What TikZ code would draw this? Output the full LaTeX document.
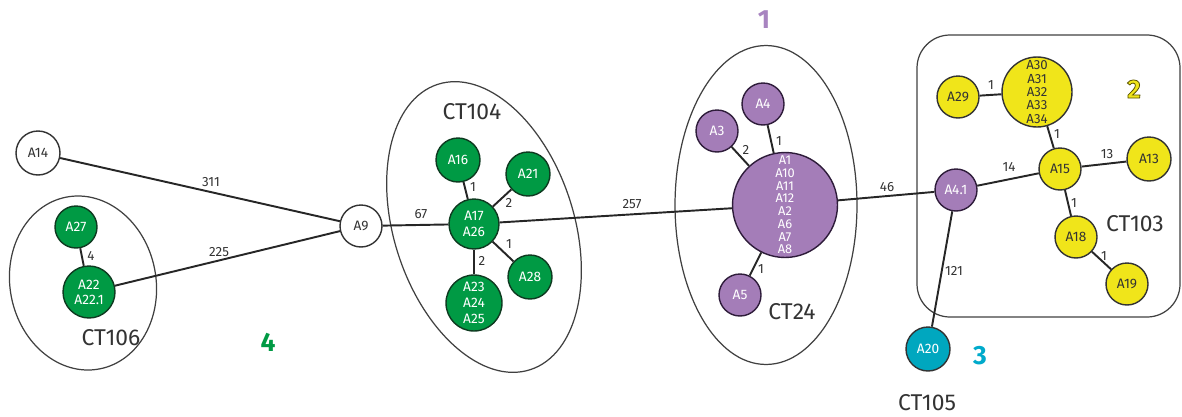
\documentclass[tikz,border=0pt]{standalone}
\usepackage{fontspec}
\setmainfont{Fira Sans}
\definecolor{cgreen}{HTML}{009A44}
\definecolor{cgreendk}{HTML}{0E3A20}
\definecolor{cpurple}{HTML}{A47DB8}
\definecolor{cpurpledk}{HTML}{2E1C3A}
\definecolor{cyellow}{HTML}{F0E51A}
\definecolor{ccyan}{HTML}{00A7BF}
\definecolor{cgray}{HTML}{333333}
\definecolor{cnum1}{HTML}{A884C0}
\definecolor{cnum3}{HTML}{00AACB}
\begin{document}
\begin{tikzpicture}[x=0.02cm,y=-0.02cm,
  base/.style={circle, inner sep=0pt, line width=0.8pt, align=center,
    font=\fontsize{7.8}{9}\selectfont},
  wnode/.style={base, draw=cgray, fill=white, text=cgray},
  gnode/.style={base, draw=cgreendk, fill=cgreen, text=white},
  pnode/.style={base, draw=cpurpledk, fill=cpurple, text=white},
  ynode/.style={base, draw=cgray, fill=cyellow, text=cgray},
  cnode/.style={base, draw=cgray, fill=ccyan, text=white},
  r21/.style={minimum size=0.84cm},
  r22/.style={minimum size=0.88cm},
  link/.style={line width=1.1pt, draw=black!85},
  lbl/.style={font=\fontsize{7.6}{9}\selectfont, text=cgray, inner sep=0pt},
  grp/.style={draw=black!75, line width=0.7pt},
  ctlbl/.style={font=\fontsize{13}{15}\selectfont, text=cgray, inner sep=0pt},
  bignum/.style={font=\fontsize{15}{17}\selectfont\bfseries, inner sep=0pt}
]
\useasboundingbox (0,0) rectangle (1182,416);

% groups
\draw[grp, shift={(83,283)}, rotate=11] (0,0) ellipse [x radius=1.46cm, y radius=1.75cm];
\draw[grp, shift={(484,227)}, rotate=18] (0,0) ellipse [x radius=1.8cm, y radius=3.0cm];
\draw[grp] (766,205) ellipse [x radius=1.82cm, y radius=3.19cm];
\draw[grp, rounded corners=0.66cm] (917,35) rectangle (1180,317);

% nodes
\node[wnode, r22] (A14) at (38,153) {A14};
\node[wnode, r21] (A9) at (361,226) {A9};
\node[gnode, r21] (A27) at (76,227) {A27};
\node[gnode, minimum size=1.04cm, font=\fontsize{7.8}{8.6}\selectfont] (A22) at (89,292) {A22\\A22.1};
\node[gnode, r22] (A16) at (458,160) {A16};
\node[gnode, r22] (A21) at (528,174) {A21};
\node[gnode, minimum size=1.0cm, font=\fontsize{7.8}{9.4}\selectfont] (A17) at (474,224) {A17\\A26};
\node[gnode, r22] (A28) at (530,277) {A28};
\node[gnode, minimum size=1.12cm, font=\fontsize{7.8}{9}\selectfont] (A23) at (474,303) {A23\\A24\\A25};
\node[pnode, r21] (A4) at (763,104) {A4};
\node[pnode, r21] (A3) at (717,131) {A3};
\node[pnode, minimum size=2.1cm, font=\fontsize{7.3}{7.26}\selectfont] (A1) at (785,205) {A1\\A10\\A11\\A12\\A2\\A6\\A7\\A8};
\node[pnode, r21] (A5) at (740,295) {A5};
\node[pnode, r21] (A41) at (956,190) {A4.1};
\node[ynode, r21] (A29) at (958,97) {A29};
\node[ynode, minimum size=1.4cm, font=\fontsize{7.5}{7.65}\selectfont] (A30) at (1037,92) {A30\\A31\\A32\\A33\\A34};
\node[ynode, r21] (A15) at (1060,169) {A15};
\node[ynode, r22] (A13) at (1149,159) {A13};
\node[ynode, r21] (A18) at (1076,237) {A18};
\node[ynode, r21] (A19) at (1127,284) {A19};
\node[cnode, r22] (A20) at (928,349) {A20};

% links
\draw[link] (A14) -- (A9);
\draw[link] (A22) -- (A9);
\draw[link] (A27) -- (A22);
\draw[link] (A9) -- (A17);
\draw[link] (A16) -- (A17);
\draw[link] (A21) -- (A17);
\draw[link] (A28) -- (A17);
\draw[link] (A23) -- (A17);
\draw[link] (A17) -- (A1);
\draw[link] (A3) -- (A1);
\draw[link] (A4) -- (A1);
\draw[link] (A5) -- (A1);
\draw[link] (A1) -- (A41);
\draw[link] (A41) -- (A15);
\draw[link] (A41) -- (A20);
\draw[link] (A29) -- (A30);
\draw[link] (A30) -- (A15);
\draw[link] (A15) -- (A13);
\draw[link] (A15) -- (A18);
\draw[link] (A18) -- (A19);

% link labels
\node[lbl] (l311) at (211,182) {311};
\node[lbl] (l225) at (219,252) {225};
\node[lbl] (l4) at (91,256) {4};
\node[lbl] (l67) at (421,214) {67};
\node[lbl] (l257) at (632,204) {257};
\node[lbl] (l16) at (473,187) {1};
\node[lbl] (l21) at (509,203) {2};
\node[lbl] (l28) at (509,244) {1};
\node[lbl] (l23) at (482,261) {2};
\node[lbl] (l3) at (746,150) {2};
\node[lbl] (lA4) at (779,141) {1};
\node[lbl] (l5) at (761,269) {1};
\node[lbl] (l46) at (887,187) {46};
\node[lbl] (l29) at (991,85) {1};
\node[lbl] (l30) at (1057,134) {1};
\node[lbl] (l13) at (1107,154) {13};
\node[lbl] (l14) at (1009,167) {14};
\node[lbl] (l18) at (1074,203) {1};
\node[lbl] (l19) at (1104,256) {1};
\node[lbl] (l121) at (954,271) {121};

% group labels
\node[ctlbl] (ct106) at (111,338) {CT106};
\node[ctlbl] (ct104) at (472,112) {CT104};
\node[ctlbl] (ct24) at (792,312) {CT24};
\node[ctlbl] (ct103) at (1135,224) {CT103};
\node[ctlbl] (ct105) at (927,403) {CT105};

\node[bignum, text=cgreen] (n4) at (268,342) {4};
\node[bignum, text=cnum1] (n1) at (764,20) {1};
\node[bignum, text=cnum3] (n3) at (980,356) {3};
\node[bignum] (n2) at (1134,89) {{\color{cyellow}\special{pdf:literal direct 2 Tr 0.45 w 0.35 0.32 0 RG}2\special{pdf:literal direct 0 Tr}}};
\end{tikzpicture}
\end{document}
